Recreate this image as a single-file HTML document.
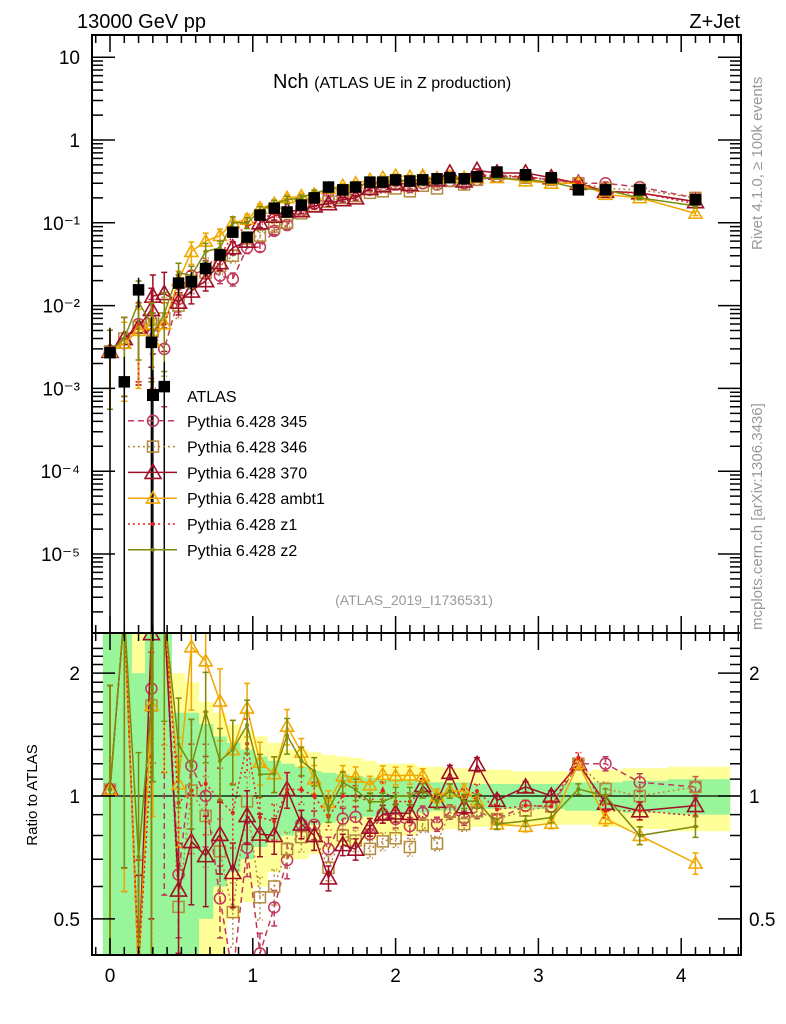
<!DOCTYPE html>
<html><head><meta charset="utf-8">
<style>
html,body{margin:0;padding:0;background:#fff;width:786px;height:1024px;overflow:hidden;}
svg{display:block;font-family:"Liberation Sans",Arial,sans-serif;}
</style></head>
<body>
<svg id="chart" width="786" height="1024" viewBox="0 0 786 1024" xmlns="http://www.w3.org/2000/svg">
<defs>
<clipPath id="clipMain"><rect x="92" y="36" width="649" height="597"/></clipPath>
<clipPath id="clipRatio"><rect x="92" y="634" width="649" height="320"/></clipPath>
</defs>
<g id="bandsLayer" clip-path="url(#clipRatio)"></g>
<g id="seriesLayer"></g>
<g id="axesLayer"></g>
<text x="77" y="28" font-size="20">13000 GeV pp</text>
<text x="740" y="28" font-size="20" text-anchor="end">Z+Jet</text>
<text x="273" y="88" font-size="20">Nch <tspan font-size="16">(ATLAS UE in Z production)</tspan></text>
<text x="414" y="605" font-size="14" fill="#999" text-anchor="middle">(ATLAS_2019_I1736531)</text>
<text transform="translate(762,250) rotate(-90)" font-size="15" fill="#999">Rivet 4.1.0, ≥ 100k events</text>
<text transform="translate(762,630) rotate(-90)" font-size="15" fill="#999">mcplots.cern.ch [arXiv:1306.3436]</text>
<text transform="translate(37,795) rotate(-90)" font-size="15" text-anchor="middle">Ratio to ATLAS</text>
<g id="legendLayer"></g>
</svg>
<script>
var xs = [0,0.1,0.2,0.29,0.3,0.38,0.48,0.57,0.67,0.77,0.86,0.96,1.05,1.15,1.24,1.34,1.43,1.53,1.63,1.72,1.82,1.91,2.0,2.1,2.19,2.29,2.38,2.48,2.57,2.71,2.91,3.09,3.28,3.47,3.71,4.1];
var atlas = [0.0027,0.0012,0.0155,0.0036,0.00083,0.00105,0.0187,0.0194,0.028,0.041,0.077,0.067,0.124,0.15,0.135,0.164,0.2,0.27,0.25,0.27,0.31,0.31,0.33,0.32,0.33,0.34,0.35,0.34,0.36,0.41,0.38,0.35,0.25,0.25,0.25,0.19];
var atlasErr = [1,1,0.4,1,1,1,0.3,0.3,0.2,0.15,0.12,0.1,0.08,0.07,0.06,0.05,0.05,0.04,0.04,0.04,0.04,0.03,0.03,0.03,0.03,0.03,0.03,0.03,0.03,0.03,0.03,0.03,0.03,0.03,0.03,0.03];
var bandStat = [2,2,1,2,2,2,0.6,0.6,0.5,0.4,0.35,0.3,0.25,0.22,0.2,0.18,0.15,0.14,0.13,0.12,0.11,0.1,0.1,0.09,0.09,0.08,0.08,0.08,0.07,0.07,0.07,0.07,0.08,0.08,0.09,0.1];
var bandTot = [2,2,1.5,2,2,2,1,0.9,0.7,0.6,0.5,0.45,0.4,0.35,0.3,0.3,0.28,0.26,0.25,0.24,0.22,0.2,0.2,0.2,0.18,0.18,0.17,0.17,0.16,0.16,0.15,0.15,0.15,0.16,0.17,0.18];
var mcErr = [0.8,0.8,0.8,0.8,0.8,0.8,0.3,0.3,0.25,0.2,0.18,0.15,0.12,0.1,0.1,0.08,0.08,0.07,0.06,0.06,0.05,0.05,0.05,0.05,0.04,0.04,0.04,0.04,0.04,0.03,0.03,0.03,0.03,0.04,0.05,0.06];
var p345 = [0.0028,0.0035,0.006,0.0066,0.0045,0.003,0.012,0.023,0.028,0.023,0.021,0.05,0.051,0.08,0.094,0.14,0.17,0.2,0.22,0.24,0.25,0.28,0.29,0.27,0.3,0.29,0.32,0.3,0.33,0.36,0.36,0.33,0.3,0.3,0.27,0.2];
var p346 = [0.0028,0.004,0.0055,0.006,0.005,0.007,0.01,0.02,0.025,0.03,0.04,0.065,0.07,0.09,0.1,0.13,0.16,0.18,0.2,0.21,0.23,0.24,0.26,0.24,0.28,0.26,0.32,0.29,0.33,0.36,0.35,0.33,0.3,0.26,0.25,0.2];
var p370 = [0.0028,0.004,0.0055,0.009,0.013,0.014,0.011,0.015,0.02,0.033,0.05,0.06,0.1,0.12,0.14,0.14,0.16,0.17,0.19,0.2,0.26,0.28,0.3,0.29,0.35,0.33,0.4,0.32,0.43,0.4,0.4,0.35,0.3,0.24,0.23,0.18];
var pAmbt1 = [0.0028,0.0035,0.005,0.006,0.0037,0.006,0.02,0.045,0.06,0.07,0.1,0.11,0.15,0.17,0.2,0.21,0.22,0.26,0.28,0.3,0.33,0.35,0.37,0.36,0.37,0.34,0.36,0.35,0.35,0.35,0.32,0.3,0.3,0.22,0.2,0.13];
var pZ1 = [0.0028,0.004,0.006,0.0045,0.005,0.006,0.018,0.02,0.03,0.04,0.07,0.09,0.11,0.13,0.14,0.17,0.2,0.24,0.25,0.27,0.3,0.32,0.32,0.31,0.34,0.33,0.36,0.34,0.37,0.38,0.36,0.33,0.31,0.23,0.23,0.17];
var pZ2 = [0.0028,0.004,0.011,0.006,0.0045,0.008,0.025,0.023,0.045,0.05,0.1,0.1,0.14,0.17,0.19,0.2,0.23,0.25,0.27,0.28,0.3,0.3,0.33,0.32,0.34,0.33,0.36,0.33,0.35,0.35,0.33,0.31,0.26,0.25,0.2,0.16];
var yTickLabels = ["10","1","10\u207B\u00B9","10\u207B\u00B2","10\u207B\u00B3","10\u207B\u2074","10\u207B\u2075"];
var xTickLabels = ["0","1","2","3","4"];
var ratioTickLabels = ["0.5","1","2"];
var seriesNames = ["Pythia 6.428 345","Pythia 6.428 346","Pythia 6.428 370","Pythia 6.428 ambt1","Pythia 6.428 z1","Pythia 6.428 z2"];

var NS="http://www.w3.org/2000/svg";
var PL=92,PR=741,PT=35,MB=633,RB=955;
function lg(v){return Math.log(v)/Math.LN10;}
function clamp(v,a,b){return Math.max(a,Math.min(b,v));}
function X(x){return 110+142.8*x;}
function Y(v){return clamp(140-82.8*lg(Math.max(v,1e-12)),PT-20,MB+20);}
function YR(r){return clamp(796-408*lg(Math.max(r,1e-6)),MB-20,RB+20);}
function mk(tag,attrs,parent){var e=document.createElementNS(NS,tag);for(var k in attrs){e.setAttribute(k,attrs[k]);}parent.appendChild(e);return e;}
var axesG=document.getElementById('axesLayer'),serG=document.getElementById('seriesLayer'),bandsG=document.getElementById('bandsLayer'),legG=document.getElementById('legendLayer');

function edgesOf(i){var lo=i===0?xs[0]-0.05:(xs[i-1]+xs[i])/2;var hi=i===xs.length-1?4.34:(xs[i]+xs[i+1])/2;return [lo,hi];}
function drawBand(arr,col,nm){
  for(var i=0;i<arr.length;i++){var ed=edgesOf(i);var e=arr[i];var up=YR(1+e),dn=YR(Math.max(1-e,0.01));
    var r=mk('rect',{x:X(ed[0]),y:up,width:X(ed[1])-X(ed[0])+0.5,height:dn-up,fill:col},bandsG);
    
    
  }
}
try{
drawBand(bandTot,'#ffff99','band-total');
drawBand(bandStat,'#99f599','band-stat');
var oneLine=mk('line',{x1:PL,x2:PR,y1:YR(1),y2:YR(1),stroke:'#000','stroke-width':1.3},bandsG);


}catch(err){}

var styles=[
 {vals:p345,col:'#c0395a',dash:'6,4',kind:'circle',sz:5.5,nm:'pythia-345'},
 {vals:p346,col:'#b58a3c',dash:'2,3',kind:'square',sz:5.5,nm:'pythia-346'},
 {vals:p370,col:'#a00f28',dash:'none',kind:'tri',sz:8,nm:'pythia-370'},
 {vals:pAmbt1,col:'#f0a800',dash:'none',kind:'tri',sz:6.5,nm:'pythia-ambt1'},
 {vals:pZ1,col:'#e8201a',dash:'2,3',kind:'dot',sz:2,nm:'pythia-z1'},
 {vals:pZ2,col:'#7f8a0a',dash:'none',kind:'dot',sz:2,nm:'pythia-z2'}
];
function marker(g,kind,x,y,s,col,fillBlack){
  var e;
  if(kind==='circle') e=mk('circle',{cx:x,cy:y,r:s,fill:'none',stroke:col,'stroke-width':1.5},g);
  else if(kind==='square') e=mk('rect',{x:x-s,y:y-s,width:2*s,height:2*s,fill:fillBlack?'#000':'none',stroke:col,'stroke-width':1.5},g);
  else if(kind==='tri') e=mk('polygon',{points:x+','+(y-s)+' '+(x-s)+','+(y+s*0.75)+' '+(x+s)+','+(y+s*0.75),fill:'none',stroke:col,'stroke-width':1.6},g);
  else e=mk('circle',{cx:x,cy:y,r:s,fill:col},g);
  return e;
}
function drawSeries(g,vals,err,st,yf,isRatio){
  var pts=[];
  for(var i=0;i<vals.length;i++){var c=isRatio?vals[i]/atlas[i]:vals[i];pts.push(X(xs[i])+','+yf(c));}
  var pl=mk('polyline',{points:pts.join(' '),fill:'none',stroke:st.col,'stroke-width':1.5,'stroke-dasharray':st.dash},g);
  
  
  for(var j=0;j<vals.length;j++){
    var v=vals[j];var cc=isRatio?v/atlas[j]:v;var e=err[j];
    var up=yf(cc*(1+e)),dn=yf(Math.max(cc*(1-e),1e-12));
    var x=X(xs[j]);
    var eb=mk('path',{d:'M'+x+','+up+'V'+dn+'M'+(x-3)+','+up+'H'+(x+3)+'M'+(x-3)+','+dn+'H'+(x+3),stroke:st.col,'stroke-width':1.5,'stroke-dasharray':st.dash,fill:'none'},g);
    
    
    var m=marker(g,st.kind,x,yf(cc),st.sz,st.col,false);
    
    
  }
}
try{
var gMain=mk('g',{'clip-path':'url(#clipMain)'},serG);


var gRat=mk('g',{'clip-path':'url(#clipRatio)'},serG);


for(var si=0;si<styles.length;si++){drawSeries(gMain,styles[si].vals,mcErr,styles[si],Y,false);drawSeries(gRat,styles[si].vals,mcErr,styles[si],YR,true);}
for(var ai=0;ai<atlas.length;ai++){
  var av=atlas[ai];var ax=X(xs[ai]);var aup=Y(av*(1+atlasErr[ai])),adn=Y(Math.max(av*(1-atlasErr[ai]),1e-12));
  var aeb=mk('path',{d:'M'+ax+','+aup+'V'+adn,stroke:'#000','stroke-width':1.5},gMain);
  
  
  var am=marker(gMain,'square',ax,Y(av),5,'#000',true);
  
  
}
}catch(err){}

try{
var frames=[[PT,MB],[MB,RB]];
for(var fi=0;fi<2;fi++){
  var a=frames[fi][0],b=frames[fi][1];
  var f=mk('rect',{x:PL,y:a,width:PR-PL,height:b-a,fill:'none',stroke:'#000','stroke-width':2},axesG);
  
  
  for(var t=-1;t<=44;t++){var tx=X(t/10);if(tx<PL||tx>PR)continue;var len=t%10===0?17:8;
    mk('path',{d:'M'+tx+','+a+'v'+len+'M'+tx+','+b+'v'+(-len),stroke:'#000','stroke-width':1.5},axesG);}
}
for(var xi=0;xi<xTickLabels.length;xi++){var xt=mk('text',{x:X(xi),y:982,'font-size':19,'text-anchor':'middle'},axesG);xt.textContent=xTickLabels[xi];
  
  }
for(var d=-6;d<=1;d++){for(var mm=1;mm<10;mm++){var yv=mm*Math.pow(10,d);var yraw=140-82.8*lg(yv);if(yraw<PT||yraw>MB)continue;var ylen=mm===1?23:11;
  mk('path',{d:'M'+PL+','+yraw+'h'+ylen+'M'+PR+','+yraw+'h'+(-ylen),stroke:'#000','stroke-width':1.5},axesG);}}
for(var yi=0;yi<yTickLabels.length;yi++){var yt=mk('text',{x:80,y:Y(Math.pow(10,1-yi))+7,'font-size':19,'text-anchor':'end'},axesG);yt.textContent=yTickLabels[yi];
  
  }
var rt=[0.4,0.5,0.6,0.7,0.8,0.9,1,1.1,1.2,1.3,1.4,1.5,1.6,1.7,1.8,1.9,2,2.1,2.2,2.3];
for(var ri=0;ri<rt.length;ri++){var ry=796-408*lg(rt[ri]);if(ry<MB||ry>RB)continue;
  var rlen=(rt[ri]===0.5||rt[ri]===1||rt[ri]===2)?23:11;mk('path',{d:'M'+PL+','+ry+'h'+rlen+'M'+PR+','+ry+'h'+(-rlen),stroke:'#000','stroke-width':1.5},axesG);}
for(var rl=0;rl<ratioTickLabels.length;rl++){var rv=parseFloat(ratioTickLabels[rl]);
  var t1=mk('text',{x:80,y:YR(rv)+7,'font-size':19,'text-anchor':'end'},axesG);t1.textContent=ratioTickLabels[rl];
  
  
  var t2=mk('text',{x:749,y:YR(rv)+7,'font-size':19},axesG);t2.textContent=ratioTickLabels[rl];
  
  }
}catch(err){}

try{
var ly0=395,ldy=25.8;
var la=mk('rect',{x:147,y:ly0-6,width:12,height:12,fill:'#000'},legG);


var lt=mk('text',{x:187,y:ly0+7,'font-size':16},legG);lt.textContent='ATLAS';


for(var li=0;li<styles.length;li++){var st=styles[li];var ly=ly0+ldy*(li+1);
  var ll=mk('line',{x1:128,x2:177,y1:ly,y2:ly,stroke:st.col,'stroke-width':1.5,'stroke-dasharray':st.dash},legG);
  
  
  var lm=marker(legG,st.kind,153,ly,st.sz,st.col,false);
  
  
  var ltx=mk('text',{x:187,y:ly+6,'font-size':16},legG);ltx.textContent=seriesNames[li];
  
  }
}catch(err){}
</script>
</body></html>
